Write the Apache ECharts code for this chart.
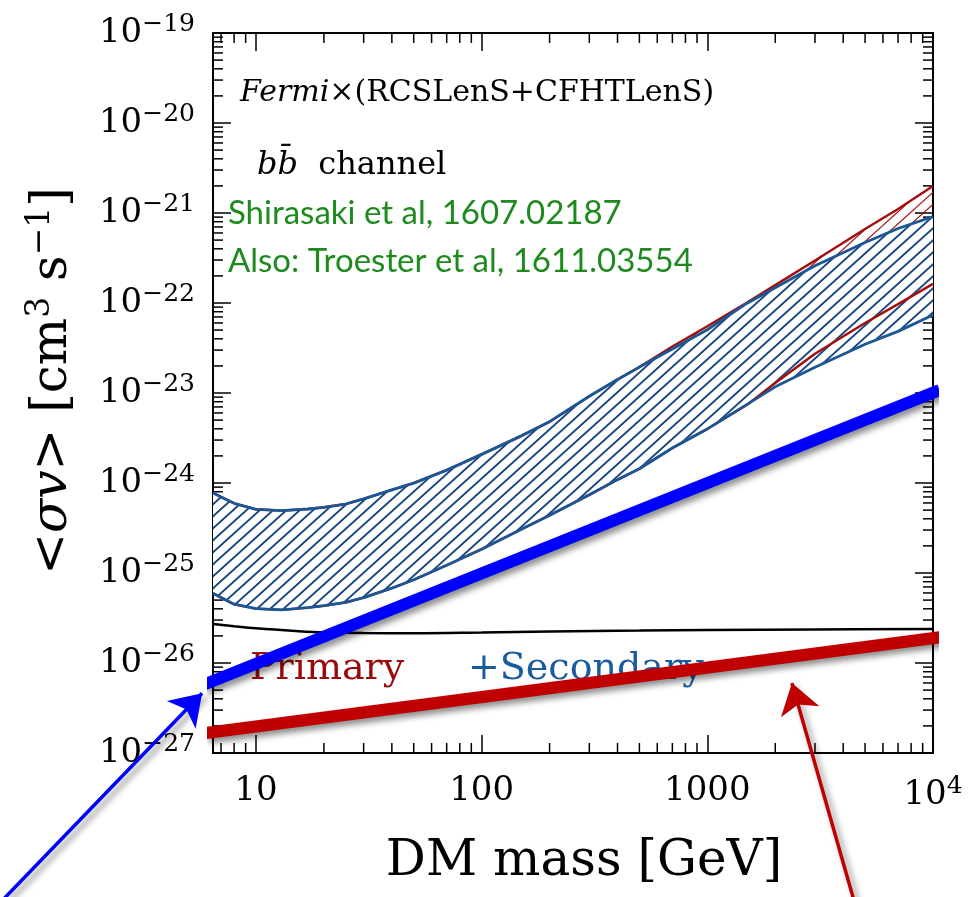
<!DOCTYPE html>
<html><head><meta charset="utf-8">
<script src="https://cdn.jsdelivr.net/npm/echarts@6/dist/echarts.min.js"></script>
<style>html,body{margin:0;padding:0;background:#fff}#c{width:971px;height:897px}#err{position:absolute;left:0;top:0;font:12px monospace;color:red;white-space:pre-wrap;width:960px}</style>
</head><body><div id="c"></div><div id="err"></div>
<script>
window.onerror = function (msg, src, line, col, err) { document.getElementById('err').textContent += msg + ' @' + line + ':' + col + '\n'; };
// ---------------- data ----------------
const massGrid = [6.45, 7, 8, 10, 13, 17, 20, 25, 30, 40, 50, 70, 100, 150, 200, 300, 400, 500, 700, 1000, 1500, 2000, 3000, 5000, 7000, 10000];
const sigmaUpperPS = [7.80e-25, 6.99e-25, 5.95e-25, 5.10e-25, 4.93e-25, 5.14e-25, 5.37e-25, 5.84e-25, 6.67e-25, 8.40e-25, 9.97e-25, 1.39e-24, 2.08e-24, 3.34e-24, 4.80e-24, 9.21e-24, 1.41e-23, 1.94e-23, 3.08e-23, 5.04e-23, 9.95e-23, 1.48e-22, 2.59e-22, 4.70e-22, 6.73e-22, 9.12e-22];
const sigmaLowerPS = [5.95e-26, 5.33e-26, 4.50e-26, 4.02e-26, 3.89e-26, 4.12e-26, 4.33e-26, 4.71e-26, 5.32e-26, 6.78e-26, 8.40e-26, 1.22e-25, 1.84e-25, 3.06e-25, 4.37e-25, 7.39e-25, 1.09e-24, 1.44e-24, 2.45e-24, 3.99e-24, 7.47e-24, 1.17e-23, 1.93e-23, 3.48e-23, 4.84e-23, 7.36e-23];
const sigmaUpperP = [7.80e-25, 6.99e-25, 5.95e-25, 5.10e-25, 4.93e-25, 5.14e-25, 5.37e-25, 5.84e-25, 6.67e-25, 8.40e-25, 9.97e-25, 1.39e-24, 2.08e-24, 3.34e-24, 4.80e-24, 9.21e-24, 1.41e-23, 1.94e-23, 3.29e-23, 5.52e-23, 1.01e-22, 1.58e-22, 2.97e-22, 6.64e-22, 1.11e-21, 2.00e-21];
const sigmaLowerP = [5.95e-26, 5.33e-26, 4.50e-26, 4.02e-26, 3.89e-26, 4.12e-26, 4.33e-26, 4.71e-26, 5.32e-26, 6.78e-26, 8.40e-26, 1.22e-25, 1.84e-25, 3.06e-25, 4.37e-25, 7.39e-25, 1.09e-24, 1.44e-24, 2.45e-24, 3.99e-24, 7.40e-24, 1.29e-23, 2.73e-23, 5.99e-23, 9.72e-23, 1.63e-22];
const relicMass  = [6.45, 8, 10, 15, 20, 30, 50, 100, 200, 500, 1000, 3000, 10000];
const relicSigma = [2.71e-26, 2.56e-26, 2.43e-26, 2.27e-26, 2.19e-26, 2.15e-26, 2.14e-26, 2.18e-26, 2.24e-26, 2.29e-26, 2.33e-26, 2.36e-26, 2.39e-26];
const secondaryMass  = [5.82, 10690];
const secondarySigma = [5.70e-27, 1.08e-23];
const primaryMass    = [5.94, 11020];
const primarySigma   = [1.66e-27, 1.95e-26];
const blueArrowMass  = [0.619, 5.77];
const blueArrowSigma = [1.39e-29, 4.61e-27];
const redArrowMass   = [4727, 2371];
const redArrowSigma  = [1.39e-29, 6.0e-27];
const xTickValues = [10, 100, 1000, 10000];
const xTickLabels = ['10', '100', '1000', '{b|10}{s|4}'];
const yTickValues = [1e-27, 1e-26, 1e-25, 1e-24, 1e-23, 1e-22, 1e-21, 1e-20, 1e-19];
const yTickLabels = ['{b|10}{s|\u221227}', '{b|10}{s|\u221226}', '{b|10}{s|\u221225}', '{b|10}{s|\u221224}', '{b|10}{s|\u221223}',
                     '{b|10}{s|\u221222}', '{b|10}{s|\u221221}', '{b|10}{s|\u221220}', '{b|10}{s|\u221219}'];
const minorMultipliers = [2, 3, 4, 5, 6, 7, 8, 9];
const xMinorDecades = [1, 10, 100, 1000];
const yMinorDecades = [1e-27, 1e-26, 1e-25, 1e-24, 1e-23, 1e-22, 1e-21, 1e-20];

// ---------------- helpers ----------------
const SERIF = 'DejaVu Serif';
const X_MIN = 6.45, X_MAX = 10000, Y_MIN = 1e-27, Y_MAX = 1e-19;

function hatch(color, lw) {
  const W = 40, H = 36;
  const c = document.createElement('canvas');
  c.width = W; c.height = H;
  const g = c.getContext('2d');
  g.strokeStyle = color; g.lineWidth = lw;
  for (let k = -4; k <= 4; k++) {
    const x0 = k * W / 3;
    g.beginPath(); g.moveTo(x0 - 60, H + 54); g.lineTo(x0 + 60, H - 54); g.stroke();
  }
  return { image: c, repeat: 'repeat' };
}
const blueHatch = hatch('#17457f', 1.9);
const redHatch = hatch('#a50d0d', 1.2);

function zip(xs, ys) { return xs.map((x, i) => [x, ys[i]]); }

function bandRender(upper, lower, pattern, whiteUnder) {
  return function (params, api) {
    const pts = [];
    for (let i = 0; i < massGrid.length; i++) pts.push(api.coord([massGrid[i], upper[i]]));
    for (let i = massGrid.length - 1; i >= 0; i--) pts.push(api.coord([massGrid[i], lower[i]]));
    const children = [];
    if (whiteUnder) children.push({ type: 'polygon', shape: { points: pts }, style: { fill: '#fff' } });
    children.push({ type: 'polygon', shape: { points: pts }, style: { fill: pattern } });
    return { type: 'group', children: children };
  };
}

function minorRender(isX) {
  return function (params, api) {
    const cs = params.coordSys;
    const p = api.coord([api.value(0), api.value(1)]);
    const L = 10, st = { stroke: '#000', lineWidth: 1.5 };
    if (isX) {
      return { type: 'group', children: [
        { type: 'line', shape: { x1: p[0], y1: cs.y + cs.height, x2: p[0], y2: cs.y + cs.height - L }, style: st },
        { type: 'line', shape: { x1: p[0], y1: cs.y, x2: p[0], y2: cs.y + L }, style: st }
      ] };
    }
    return { type: 'group', children: [
      { type: 'line', shape: { x1: cs.x, y1: p[1], x2: cs.x + L, y2: p[1] }, style: st },
      { type: 'line', shape: { x1: cs.x + cs.width, y1: p[1], x2: cs.x + cs.width - L, y2: p[1] }, style: st }
    ] };
  };
}

const xMinor = [];
xMinorDecades.forEach(d => minorMultipliers.forEach(m => { const v = m * d; if (v > X_MIN && v < X_MAX) xMinor.push([v, 1e-23]); }));
const yMinor = [];
yMinorDecades.forEach(d => minorMultipliers.forEach(m => yMinor.push([10, m * d])));

function lookup(values, labels) {
  return function (v) {
    for (let i = 0; i < values.length; i++) if (Math.abs(v / values[i] - 1) < 1e-6) return labels[i];
    return '';
  };
}

const labelRich = {
  b: { fontFamily: SERIF, fontSize: 34, color: '#000' },
  s: { fontFamily: SERIF, fontSize: 25, color: '#000', padding: [0, 0, 18, 0] }
};

const frameLine = { show: true, onZero: false, lineStyle: { color: '#000', width: 2 } };
function majorTick(vals) { return { show: true, inside: true, length: 18, customValues: vals, lineStyle: { color: '#000', width: 1.5 } }; }
const shadow = { shadowBlur: 6, shadowColor: 'rgba(0,0,0,0.45)', shadowOffsetX: 4, shadowOffsetY: 4 };

const option = {
  animation: false,
  backgroundColor: '#fff',
  grid: { left: 213, right: 38, top: 33, bottom: 144, containLabel: false, outerBoundsMode: 'none' },
  xAxis: [
    { type: 'log', logBase: 10, min: X_MIN, max: X_MAX, splitNumber: 3, position: 'bottom',
      axisLine: frameLine, axisTick: majorTick(xTickValues), splitLine: { show: false },
      axisLabel: { show: true, margin: 21, customValues: xTickValues, formatter: lookup(xTickValues, xTickLabels), rich: labelRich,
        fontFamily: SERIF, fontSize: 34, color: '#000', hideOverlap: false, showMinLabel: true, showMaxLabel: true },
      name: 'DM mass [GeV]', nameLocation: 'middle', nameGap: 84, nameMoveOverlap: false,
      nameTextStyle: { fontFamily: SERIF, fontSize: 50, color: '#000', padding: [0, 0, 0, 22] } },
    { type: 'log', logBase: 10, min: X_MIN, max: X_MAX, splitNumber: 3, position: 'top',
      axisLine: frameLine, axisTick: majorTick(xTickValues), splitLine: { show: false }, axisLabel: { show: false } }
  ],
  yAxis: [
    { type: 'log', logBase: 10, min: Y_MIN, max: Y_MAX, splitNumber: 8, position: 'left',
      axisLine: frameLine, axisTick: majorTick(yTickValues), splitLine: { show: false },
      axisLabel: { show: true, margin: 18, customValues: yTickValues, formatter: lookup(yTickValues, yTickLabels), rich: labelRich,
        fontFamily: SERIF, fontSize: 34, color: '#000', showMinLabel: true, showMaxLabel: true, hideOverlap: false },
      name: '<{i|\u03c3v}> [cm{s|3} s{s|\u22121}]', nameLocation: 'middle', nameGap: 130, nameRotate: 90, nameMoveOverlap: false,
      nameTextStyle: { fontFamily: SERIF, fontSize: 50, color: '#000', padding: [0, 0, 0, 24],
        rich: { i: { fontFamily: SERIF, fontSize: 50, fontStyle: 'italic' }, s: { fontFamily: SERIF, fontSize: 33, padding: [0, 0, 26, 0] } } } },
    { type: 'log', logBase: 10, min: Y_MIN, max: Y_MAX, splitNumber: 8, position: 'right',
      axisLine: frameLine, axisTick: majorTick(yTickValues), splitLine: { show: false }, axisLabel: { show: false } }
  ],
  graphic: [
    { type: 'text', x: 240, y: 93, z: 1, style: { text: '{i|Fermi}\u00d7(RCSLenS+CFHTLenS)', font: '30px "DejaVu Serif"', fill: '#000', verticalAlign: 'middle',
      rich: { i: { fontStyle: 'italic', fontFamily: SERIF, fontSize: 30 } } } },
    { type: 'text', x: 257, y: 166, z: 1, style: { text: '{i|bb\u0304}  channel', font: '32px "DejaVu Serif"', fill: '#000', verticalAlign: 'middle',
      rich: { i: { fontStyle: 'italic', fontFamily: SERIF, fontSize: 32 } } } },
    { type: 'text', x: 228, y: 213, z: 1, style: { text: 'Shirasaki et al, 1607.02187', font: '33px Lato', fill: '#1e8a1e', verticalAlign: 'middle' } },
    { type: 'text', x: 228, y: 261, z: 1, style: { text: 'Also: Troester et al, 1611.03554', font: '33px Lato', fill: '#1e8a1e', verticalAlign: 'middle' } },
    { type: 'text', x: 250, y: 669, z: 1, style: { text: 'Primary', font: '38px "DejaVu Serif"', fill: '#9a0a0a', verticalAlign: 'middle' } },
    { type: 'text', x: 468, y: 669, z: 1, style: { text: '+Secondary', font: '38px "DejaVu Serif"', fill: '#1a5aa0', verticalAlign: 'middle' } }
  ],
  series: [
    { type: 'custom', name: 'minorX', z: 3, renderItem: minorRender(true), data: xMinor, silent: true },
    { type: 'custom', name: 'minorY', z: 3, renderItem: minorRender(false), data: yMinor, silent: true },
    { type: 'custom', name: 'Primary band', z: 4, renderItem: bandRender(sigmaUpperP, sigmaLowerP, redHatch, false), data: [[massGrid[0], sigmaUpperP[0]]], silent: true },
    { type: 'custom', name: 'Primary+Secondary band', z: 5, renderItem: bandRender(sigmaUpperPS, sigmaLowerPS, blueHatch, true), data: [[massGrid[0], sigmaUpperPS[0]]], silent: true },
    { type: 'line', name: 'P upper', z: 6, data: zip(massGrid, sigmaUpperP), showSymbol: false, symbol: 'none', lineStyle: { color: '#a50d0d', width: 2.4 } },
    { type: 'line', name: 'P lower', z: 6, data: zip(massGrid, sigmaLowerP), showSymbol: false, symbol: 'none', lineStyle: { color: '#a50d0d', width: 2.4 } },
    { type: 'line', name: 'PS upper', z: 7, data: zip(massGrid, sigmaUpperPS), showSymbol: false, symbol: 'none', lineStyle: { color: '#1b5696', width: 2.8 } },
    { type: 'line', name: 'PS lower', z: 7, data: zip(massGrid, sigmaLowerPS), showSymbol: false, symbol: 'none', lineStyle: { color: '#1b5696', width: 2.8 } },
    { type: 'line', name: 'relic', z: 8, data: zip(relicMass, relicSigma), smooth: 0.4, showSymbol: false, symbol: 'none', lineStyle: { color: '#000', width: 2.5 } },
    { type: 'line', name: 'Secondary thick', z: 9, clip: false, data: zip(secondaryMass, secondarySigma), showSymbol: false, symbol: 'none',
      lineStyle: Object.assign({ color: '#0000ff', width: 12, cap: 'butt' }, shadow) },
    { type: 'line', name: 'Primary thick', z: 9, clip: false, data: zip(primaryMass, primarySigma), showSymbol: false, symbol: 'none',
      lineStyle: Object.assign({ color: '#c00000', width: 12, cap: 'butt' }, shadow) },
    { type: 'lines', name: 'arrows', coordinateSystem: 'cartesian2d', z: 10, clip: false, symbol: ['none', 'arrow'], symbolSize: [22, 30],
      data: [
        { coords: zip(blueArrowMass, blueArrowSigma), lineStyle: Object.assign({ color: '#0000ff', width: 3.5 }, shadow) },
        { coords: zip(redArrowMass, redArrowSigma), lineStyle: Object.assign({ color: '#c00000', width: 3.5 }, shadow) }
      ], lineStyle: { opacity: 1, curveness: 0 } }
  ]
};
try {
  const chart = echarts.init(document.getElementById('c'), null, { renderer: 'canvas' });
  chart.setOption(option);
} catch (e) {
  document.getElementById('err').textContent += 'CAUGHT: ' + e.message + '\n' + e.stack;
}
</script></body></html>
